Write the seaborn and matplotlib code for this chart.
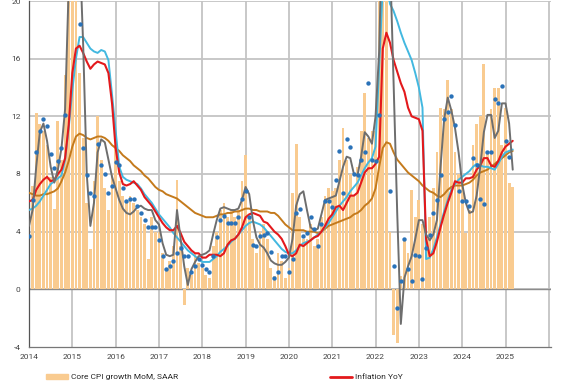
import numpy as np
import pandas as pd
import seaborn as sns
import matplotlib.pyplot as plt
from matplotlib.patches import Patch
from matplotlib.lines import Line2D

# monthly data, Jan 2014 .. Mar 2025
core_mom_saar = [
    4.0, 7.2, 12.2, 11.5, 11.0, 10.0, 7.8, 5.6, 11.7, 9.0, 14.9, 24.0,
    26.0, 24.0, 15.0, 10.5, 6.0, 2.8, 7.5, 12.0, 9.0, 7.0, 5.5, 8.0,
    10.0, 7.5, 6.5, 6.0, 6.5, 6.0, 5.5, 5.0, 4.5, 2.1, 5.0, 4.0,
    4.0, 2.5, 1.5, 2.0, 3.0, 7.6, 3.0, -1.1, 1.5, 1.0, 2.5, 1.8,
    1.5, 1.0, 0.8, 3.0, 4.0, 5.5, 6.0, 5.0, 5.5, 5.0, 5.5, 7.5,
    9.3, 5.0, 3.5, 2.5, 4.0, 4.5, 3.5, 1.5, 0.9, 2.5, 2.0, 0.8,
    1.5, 6.7, 10.1, 5.0, 3.5, 3.5, 4.5, 3.0, 3.5, 5.0, 6.5, 7.0,
    6.8, 7.0, 9.0, 11.2, 9.0, 8.0, 6.5, 8.5, 11.0, 13.6, 10.5, 11.0,
    11.0, 22.0, 28.0, 24.0, 4.0, -3.2, -3.7, 0.9, 3.4, 2.5, 6.9, 5.0,
    6.2, 4.5, 3.5, 5.0, 7.0, 9.5, 12.6, 12.5, 14.5, 12.5, 9.5, 8.0,
    7.5, 3.9, 5.5, 10.0, 11.5, 12.0, 15.6, 9.5, 12.5, 14.0, 14.0, 10.0,
    12.6, 7.4, 7.1,
]

dots = [
    3.7, 6.2, 9.5, 11.0, 11.8, 11.3, 9.4, 8.4, 8.9, 9.8, 12.1, 23.0,
    27.0, 24.0, 18.4, 9.8, 7.9, 6.7, 6.5, 10.1, 8.6, 8.0, 6.7, 7.2,
    8.8, 8.6, 7.0, 6.1, 6.3, 6.3, 5.8, 5.3, 4.8, 4.3, 4.3, 4.3,
    3.4, 2.3, 1.4, 1.6, 2.0, 2.5, 2.9, 2.3, 2.3, 1.2, 1.6, 2.1,
    1.7, 1.4, 1.2, 2.3, 3.6, 4.8, 5.1, 4.6, 4.6, 4.6, 5.0, 6.3,
    6.8, 5.0, 3.1, 3.0, 3.7, 3.8, 3.9, 2.6, 0.8, 1.2, 2.3, 2.3,
    1.2, 2.1, 5.3, 5.6, 3.7, 3.9, 5.0, 4.2, 3.0, 4.5, 6.1, 6.1,
    5.7, 7.6, 9.6, 6.7, 10.4, 9.9, 8.0, 7.9, 9.0, 9.5, 14.3, 9.0,
    8.9, 12.1, 24.0, 22.0, 6.8, 1.6, -1.3, 0.6, 3.5, 1.4, 0.6, 2.4,
    2.3, 0.7, 2.9, 3.8, 5.3, 6.2, 7.9, 11.8, 12.3, 13.4, 11.4, 6.8,
    6.1, 6.1, 5.8, 9.1, 8.6, 6.3, 5.9, 9.5, 9.5, 13.2, 12.9, 14.1,
    10.3, 9.2, np.nan,
]

gray_line = [
    4.4, 5.5, 8.5, 10.9, 11.5, 10.3, 8.5, 7.4, 8.3, 9.8, 12.5, 21.0,
    26.0, 27.0, 24.0, 17.0, 8.0, 4.4, 6.0, 9.5, 10.4, 10.2, 9.0, 7.8,
    7.0, 6.2, 5.6, 5.3, 5.2, 5.4, 5.7, 5.8, 5.6, 5.5, 5.5, 4.8,
    4.5, 3.2, 2.4, 2.3, 2.4, 5.5, 3.5, 1.6, 0.3, 1.4, 1.9, 2.3,
    2.4, 2.5, 2.7, 3.8, 4.8, 5.6, 5.7, 5.6, 5.5, 5.5, 5.6, 6.2,
    7.1, 6.6, 4.8, 3.6, 3.1, 2.9, 2.5, 2.0, 1.8, 1.7, 1.7, 1.9,
    2.2, 3.5, 5.8, 6.6, 6.8, 5.5, 4.3, 4.1, 4.2, 5.2, 6.2, 6.3,
    6.4, 6.5, 7.5, 8.5, 9.2, 9.1, 8.0, 7.9, 9.2, 10.9, 10.6, 10.1,
    12.0, 16.5, 27.0, 29.0, 23.0, 14.3, 5.3, -2.4, 0.8, 1.6, 2.3, 3.5,
    4.8, 4.8, 3.8, 3.4, 3.8, 4.8, 8.5, 11.8, 13.3, 12.4, 11.2, 9.5,
    7.3, 6.0, 5.3, 5.4, 6.5, 8.5, 10.9, 12.1, 12.1, 10.5, 11.0, 12.9,
    12.9, 11.5, 8.3,
]

core_yoy = [
    5.5, 5.6, 5.8, 6.1, 6.5, 6.9, 7.3, 7.5, 7.7, 7.9, 9.0, 11.2,
    13.8, 16.0, 17.5, 17.5, 17.1, 16.7, 16.5, 16.4, 16.6, 16.5, 15.9, 13.5,
    11.0, 8.5, 7.8, 7.6, 7.5, 7.4, 7.3, 7.0, 6.6, 6.3, 6.0, 5.6,
    5.2, 4.9, 4.6, 4.3, 3.9, 3.6, 3.3, 3.0, 2.7, 2.5, 2.3, 2.1,
    1.9, 1.9, 1.9, 2.1, 2.3, 2.6, 2.8, 3.0, 3.3, 3.5, 3.8, 4.1,
    4.4, 4.6, 4.7, 4.6, 4.5, 4.3, 4.0, 3.7, 3.4, 3.1, 2.8, 2.6,
    2.5, 2.5, 2.7, 3.0, 3.2, 3.3, 3.4, 3.6, 3.8, 4.0, 4.3, 4.6,
    5.0, 5.4, 5.8, 6.1, 6.4, 6.8, 7.1, 7.4, 7.9, 8.4, 8.8, 9.1,
    9.9, 15.5, 21.0, 21.5, 19.8, 19.3, 18.6, 17.8, 17.1, 16.5, 15.9, 15.0,
    14.0, 12.6, 2.1, 2.2, 2.8, 3.6, 4.5, 5.4, 6.2, 6.9, 7.3, 7.6,
    7.8, 8.0, 8.2, 8.5, 8.7, 8.6, 8.5, 8.5, 8.4, 8.3, 8.7, 9.2,
    9.5, 9.6, 9.7,
]

brown_line = [
    6.7, 6.6, 6.5, 6.5, 6.6, 6.6, 6.7, 6.8, 7.0, 7.5, 8.1, 8.9,
    9.9, 10.6, 10.8, 10.7, 10.5, 10.4, 10.5, 10.6, 10.6, 10.5, 10.3, 10.0,
    9.8, 9.6, 9.3, 9.1, 8.9, 8.6, 8.4, 8.2, 7.9, 7.7, 7.4, 7.1,
    6.9, 6.8, 6.6, 6.5, 6.4, 6.3, 6.1, 5.9, 5.7, 5.5, 5.3, 5.2,
    5.1, 5.0, 5.0, 5.0, 5.1, 5.2, 5.2, 5.3, 5.3, 5.4, 5.4, 5.5,
    5.6, 5.6, 5.5, 5.5, 5.4, 5.4, 5.4, 5.3, 5.3, 5.1, 4.8, 4.5,
    4.3, 4.1, 4.1, 4.1, 4.1, 4.0, 4.0, 4.0, 3.9, 4.0, 4.2, 4.4,
    4.5, 4.6, 4.7, 4.8, 4.9, 5.0, 5.2, 5.3, 5.5, 5.8, 6.0, 6.3,
    7.0, 8.5, 9.8, 10.2, 10.1, 9.5, 9.0, 8.7, 8.4, 8.1, 7.9, 7.7,
    7.5, 7.2, 7.0, 6.8, 6.7, 6.5, 6.4, 6.6, 6.9, 7.1, 7.2, 7.2,
    7.2, 7.3, 7.4, 7.6, 7.9, 8.1, 8.2, 8.3, 8.5, 8.7, 8.9, 9.1,
    9.3, 9.5, 9.6,
]

inflation_yoy = [
    6.1, 6.2, 6.9, 7.3, 7.6, 7.8, 7.5, 7.6, 8.0, 8.3, 9.1, 11.4,
    15.0, 16.7, 16.9, 16.4, 15.8, 15.3, 15.6, 15.8, 15.7, 15.6, 15.0, 12.9,
    9.8, 8.1, 7.3, 7.2, 7.3, 7.5, 7.2, 6.9, 6.4, 6.1, 5.8, 5.4,
    5.0, 4.6, 4.3, 4.1, 4.1, 4.4, 3.9, 3.3, 3.0, 2.7, 2.5, 2.5,
    2.2, 2.2, 2.4, 2.4, 2.4, 2.3, 2.5, 3.1, 3.4, 3.5, 3.8, 4.3,
    5.0, 5.2, 5.3, 5.2, 5.1, 4.7, 4.6, 4.3, 4.0, 3.8, 3.5, 3.0,
    2.4, 2.3, 2.5, 3.1, 3.0, 3.2, 3.4, 3.6, 3.7, 4.0, 4.4, 4.9,
    5.2, 5.7, 5.8, 5.5, 6.0, 6.5, 6.5, 6.7, 7.4, 8.1, 8.4, 8.4,
    8.7, 9.2, 16.7, 17.8, 17.1, 15.9, 15.1, 14.3, 13.7, 12.6, 12.0, 11.9,
    11.8, 11.0, 3.5, 2.3, 2.5, 3.3, 4.3, 5.2, 6.0, 6.7, 7.5, 7.4,
    7.4, 7.7, 7.7, 7.8, 8.3, 8.6, 9.1, 9.1, 8.6, 8.5, 8.9, 9.5,
    9.9, 10.1, 10.3,
]

years = list(range(2014, 2026))
yticks = [-4, 0, 4, 8, 12, 16, 20]

df = pd.DataFrame({
    "t": 2014 + np.arange(len(core_mom_saar)) / 12,
    "bars": core_mom_saar,
    "dots": dots,
    "gray": gray_line,
    "core": core_yoy,
    "brown": brown_line,
    "infl": inflation_yoy,
})

sns.set_style("white")
plt.rcParams["font.family"] = ["Roboto", "DejaVu Sans"]

fig = plt.figure(figsize=(5.75, 3.9), dpi=100)
ax = fig.add_axes([29 / 575, 1 - 347 / 390, 522 / 575, 346 / 390])

# light grid drawn explicitly so it sits under the bars
grid_c = "#C4C4C4"
for y in yticks[1:]:
    ax.axhline(y, color=grid_c, lw=1.3, zorder=1)
for x in years[1:] + [2026]:
    ax.axvline(x, color=grid_c, lw=1.3, zorder=1)
ax.axhline(0, color="#8C8C8C", lw=1.0, zorder=1.5)

bar_color = "#F9CB90"
ax.bar(df["t"], df["bars"], width=0.78 / 12, color=bar_color, lw=0, zorder=2)

sns.lineplot(data=df, x="t", y="brown", color="#C47A1C", lw=1.4, ax=ax, zorder=3)
sns.lineplot(data=df, x="t", y="core", color="#42B8E0", lw=1.4, ax=ax, zorder=4)
sns.lineplot(data=df, x="t", y="infl", color="#E3191C", lw=1.5, ax=ax, zorder=5)
sns.lineplot(data=df, x="t", y="gray", color="#6E6E6E", lw=1.4, ax=ax, zorder=6)
sns.scatterplot(data=df, x="t", y="dots", color="#2A72B8", s=10, linewidth=0,
                ax=ax, zorder=7)

ax.set_xlim(2014, 2026.05)
ax.set_ylim(-4, 20)
ax.set_xticks(years)
ax.set_xticklabels([str(y) for y in years])
ax.set_yticks(yticks)
ax.set_yticklabels([str(v) for v in yticks])
ax.set_xlabel("")
ax.set_ylabel("")

for s in ["top", "right"]:
    ax.spines[s].set_visible(False)
ax.spines["left"].set_color("#555555")
ax.spines["bottom"].set_color("#777777")
ax.spines["left"].set_linewidth(0.9)
ax.spines["bottom"].set_linewidth(0.9)
ax.tick_params(axis="both", labelsize=6, colors="#444444", length=0, pad=5)
ax.tick_params(axis="y", length=3, width=0.8, color="#555555", pad=3)

h1 = [Patch(color=bar_color)]
h2 = [Line2D([0], [0], color="#E3191C", lw=2)]
fig.legend(h1, ["Core CPI growth MoM, SAAR"], loc="center left",
           bbox_to_anchor=(46 / 575, 1 - 377 / 390), frameon=False,
           fontsize=6, handlelength=2.6, handleheight=0.7, handletextpad=0.4,
           borderpad=0, borderaxespad=0)
fig.legend(h2, ["Inflation YoY"], loc="center left",
           bbox_to_anchor=(330 / 575, 1 - 377 / 390), frameon=False,
           fontsize=6, handlelength=2.6, handletextpad=0.4,
           borderpad=0, borderaxespad=0)

fig.savefig("out.png", dpi=100)
